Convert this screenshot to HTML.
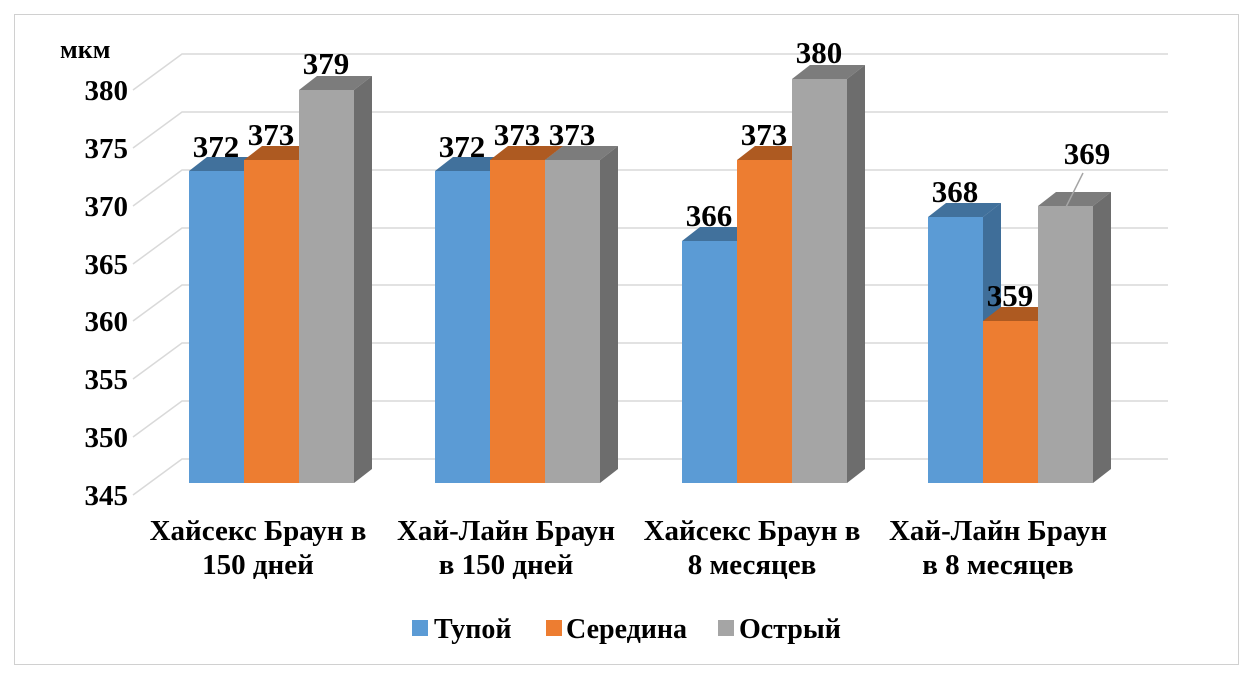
<!DOCTYPE html>
<html><head><meta charset="utf-8"><style>
body{margin:0;background:#fff}
svg text{font-family:"Liberation Serif","DejaVu Serif",serif;font-weight:bold;fill:#000}
</style></head><body>
<svg width="1253" height="680" viewBox="0 0 1253 680" xmlns="http://www.w3.org/2000/svg">
<rect x="0" y="0" width="1253" height="680" fill="#fff"/>
<rect x="14.5" y="14.5" width="1224" height="650" fill="none" stroke="#d0d0d0" stroke-width="1"/>
<g stroke="#d9d9d9" stroke-width="1.5" fill="none">
<polyline points="133,495 182,459 1168,459"/>
<polyline points="133,437 182,401 1168,401"/>
<polyline points="133,379 182,343 1168,343"/>
<polyline points="133,321 182,285 1168,285"/>
<polyline points="133,264 182,228 1168,228"/>
<polyline points="133,206 182,170 1168,170"/>
<polyline points="133,148 182,112 1168,112"/>
<polyline points="133,90 182,54 1168,54"/>
</g>
<g font-size="29" text-anchor="end">
<text x="128" y="505">345</text><text x="128" y="447">350</text><text x="128" y="389">355</text><text x="128" y="331">360</text>
<text x="128" y="274">365</text><text x="128" y="216">370</text><text x="128" y="158">375</text><text x="128" y="100">380</text>
</g>
<text x="60" y="58" font-size="26">мкм</text>
<g>
<rect x="189" y="171" width="55" height="312" fill="#5b9bd5"/><polygon points="189,171 207,157 262,157 244,171" fill="#41719c"/><polygon points="244,171 262,157 262,469 244,483" fill="#3f6e99"/>
<rect x="244" y="160" width="55" height="323" fill="#ed7d31"/><polygon points="244,160 262,146 317,146 299,160" fill="#ae5a21"/><polygon points="299,160 317,146 317,469 299,483" fill="#a9561f"/>
<rect x="299" y="90" width="55" height="393" fill="#a5a5a5"/><polygon points="299,90 317,76 372,76 354,90" fill="#7c7c7c"/><polygon points="354,90 372,76 372,469 354,483" fill="#6d6d6d"/>
<rect x="435" y="171" width="55" height="312" fill="#5b9bd5"/><polygon points="435,171 453,157 508,157 490,171" fill="#41719c"/><polygon points="490,171 508,157 508,469 490,483" fill="#3f6e99"/>
<rect x="490" y="160" width="55" height="323" fill="#ed7d31"/><polygon points="490,160 508,146 563,146 545,160" fill="#ae5a21"/><polygon points="545,160 563,146 563,469 545,483" fill="#a9561f"/>
<rect x="545" y="160" width="55" height="323" fill="#a5a5a5"/><polygon points="545,160 563,146 618,146 600,160" fill="#7c7c7c"/><polygon points="600,160 618,146 618,469 600,483" fill="#6d6d6d"/>
<rect x="682" y="241" width="55" height="242" fill="#5b9bd5"/><polygon points="682,241 700,227 755,227 737,241" fill="#41719c"/><polygon points="737,241 755,227 755,469 737,483" fill="#3f6e99"/>
<rect x="737" y="160" width="55" height="323" fill="#ed7d31"/><polygon points="737,160 755,146 810,146 792,160" fill="#ae5a21"/><polygon points="792,160 810,146 810,469 792,483" fill="#a9561f"/>
<rect x="792" y="79" width="55" height="404" fill="#a5a5a5"/><polygon points="792,79 810,65 865,65 847,79" fill="#7c7c7c"/><polygon points="847,79 865,65 865,469 847,483" fill="#6d6d6d"/>
<rect x="928" y="217" width="55" height="266" fill="#5b9bd5"/><polygon points="928,217 946,203 1001,203 983,217" fill="#41719c"/><polygon points="983,217 1001,203 1001,469 983,483" fill="#3f6e99"/>
<rect x="983" y="321" width="55" height="162" fill="#ed7d31"/><polygon points="983,321 1001,307 1056,307 1038,321" fill="#ae5a21"/><polygon points="1038,321 1056,307 1056,469 1038,483" fill="#a9561f"/>
<rect x="1038" y="206" width="55" height="277" fill="#a5a5a5"/><polygon points="1038,206 1056,192 1111,192 1093,206" fill="#7c7c7c"/><polygon points="1093,206 1111,192 1111,469 1093,483" fill="#6d6d6d"/>
</g>
<line x1="1066" y1="207" x2="1083" y2="173" stroke="#a5a5a5" stroke-width="1.5"/>
<g font-size="31" text-anchor="middle">
<text x="216" y="157">372</text><text x="271" y="145">373</text><text x="326" y="74">379</text>
<text x="462" y="157">372</text><text x="517" y="145">373</text><text x="572" y="145">373</text>
<text x="709" y="226">366</text><text x="764" y="145">373</text><text x="819" y="63">380</text>
<text x="955" y="202">368</text><text x="1010" y="306">359</text><text x="1087" y="164">369</text>
</g>
<g font-size="29" text-anchor="middle">
<text x="258" y="540">Хайсекс Браун в</text><text x="258" y="574">150 дней</text>
<text x="506" y="540">Хай-Лайн Браун</text><text x="506" y="574">в 150 дней</text>
<text x="752" y="540">Хайсекс Браун в</text><text x="752" y="574">8 месяцев</text>
<text x="998" y="540">Хай-Лайн Браун</text><text x="998" y="574">в 8 месяцев</text>
</g>
<g font-size="28">
<rect x="412" y="620" width="16" height="16" fill="#5b9bd5"/><text x="434" y="638">Тупой</text>
<rect x="546" y="620" width="16" height="16" fill="#ed7d31"/><text x="566" y="638">Середина</text>
<rect x="718" y="620" width="16" height="16" fill="#a5a5a5"/><text x="739" y="638">Острый</text>
</g>
</svg>
</body></html>
